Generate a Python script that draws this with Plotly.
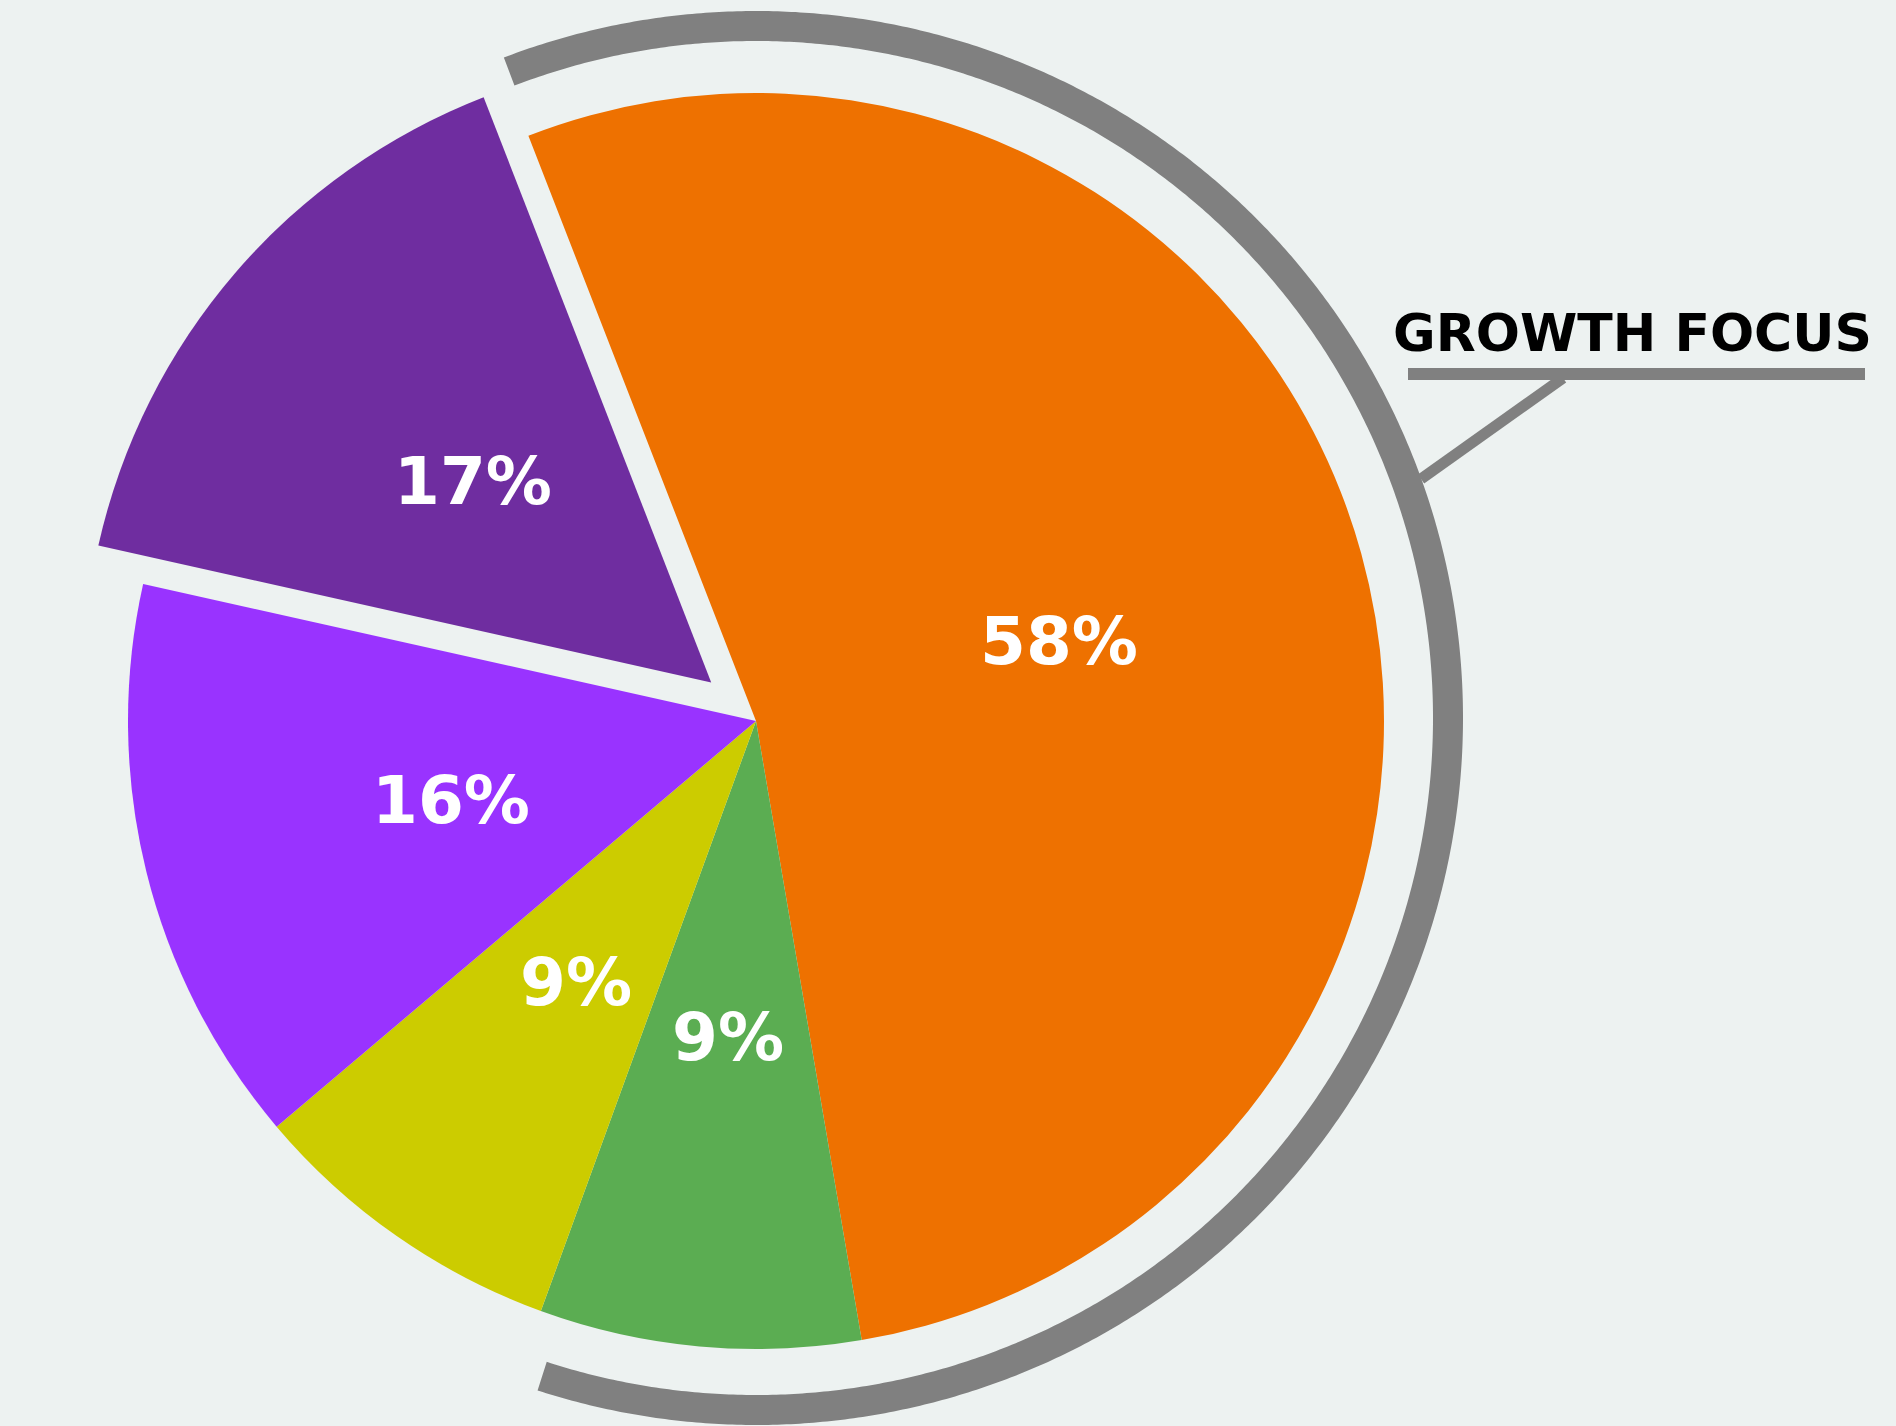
import numpy as np
import plotly.graph_objects as go

# ---- data ----
segments = ["Growth focus", "Segment B", "Segment C", "Segment D", "Segment E"]
values = [58, 9, 9, 16, 17]
labels_text = ["58%", "9%", "9%", "16%", "17%"]
colors = ["#EE7100", "#5BAD52", "#CCCC00", "#9933FF", "#6F2DA0"]
pulls = [0, 0, 0, 0, 0.094]
callout_text = "GROWTH FOCUS"

# ---- layout constants (pixels) ----
W, H = 1896, 1426
CX, CY, R = 756, 721, 628
ROT = -21.25  # start angle of first slice, clockwise from 12 o'clock
BG = "#EDF2F1"
GRAY = "#808080"

maxpull = max(pulls)
half = R * (1 + maxpull)
dom_x = [(CX - half) / W, (CX + half) / W]
dom_y = [1 - (CY + half) / H, 1 - (CY - half) / H]

fig = go.Figure()

fig.add_trace(go.Pie(
    labels=segments, values=values, sort=False, direction="clockwise",
    rotation=ROT, pull=pulls, textinfo="none", hoverinfo="label+value",
    marker=dict(colors=colors, line=dict(width=0)),
    domain=dict(x=dom_x, y=dom_y), showlegend=False,
))

# gray arc around the growth slice
arc_r, arc_cy = 692, 718
th = np.radians(np.linspace(-20.9, 198, 600))
fig.add_trace(go.Scatter(
    x=CX + arc_r * np.sin(th), y=arc_cy - arc_r * np.cos(th),
    mode="lines", line=dict(color=GRAY, width=30, simplify=False),
    hoverinfo="skip", showlegend=False,
))
# callout underline and connector
fig.add_trace(go.Scatter(x=[1408, 1865], y=[374, 374], mode="lines",
                         line=dict(color=GRAY, width=12), hoverinfo="skip", showlegend=False))
fig.add_trace(go.Scatter(x=[1563, 1421], y=[378, 479], mode="lines",
                         line=dict(color=GRAY, width=11), hoverinfo="skip", showlegend=False))

# percentage labels at half radius along each slice's mid angle
total = sum(values)
cum = 0
annotations = []
for v, t, p in zip(values, labels_text, pulls):
    mid = np.radians(ROT + (cum + v / 2) / total * 360)
    cum += v
    rr = R * (0.5 + p)
    annotations.append(dict(
        x=CX + rr * np.sin(mid), y=CY - rr * np.cos(mid) + 4, xref="x", yref="y",
        text=t, showarrow=False, xanchor="center", yanchor="middle",
        font=dict(family="DejaVu Sans", size=66, color="white", weight="bold"),
    ))
annotations.append(dict(
    x=1632, y=333, xref="x", yref="y", text=callout_text, showarrow=False,
    xanchor="center", yanchor="middle",
    font=dict(family="DejaVu Sans", size=52, color="black", weight="bold"),
))

fig.update_layout(
    width=W, height=H, margin=dict(l=0, r=0, t=0, b=0),
    paper_bgcolor=BG, plot_bgcolor=BG,
    xaxis=dict(range=[0, W], visible=False, fixedrange=True),
    yaxis=dict(range=[H, 0], visible=False, fixedrange=True),
    annotations=annotations, showlegend=False,
)

fig.write_html("out.html", config={"displayModeBar": False},
               post_script="document.body.style.margin='0';document.body.style.overflow='hidden';")
